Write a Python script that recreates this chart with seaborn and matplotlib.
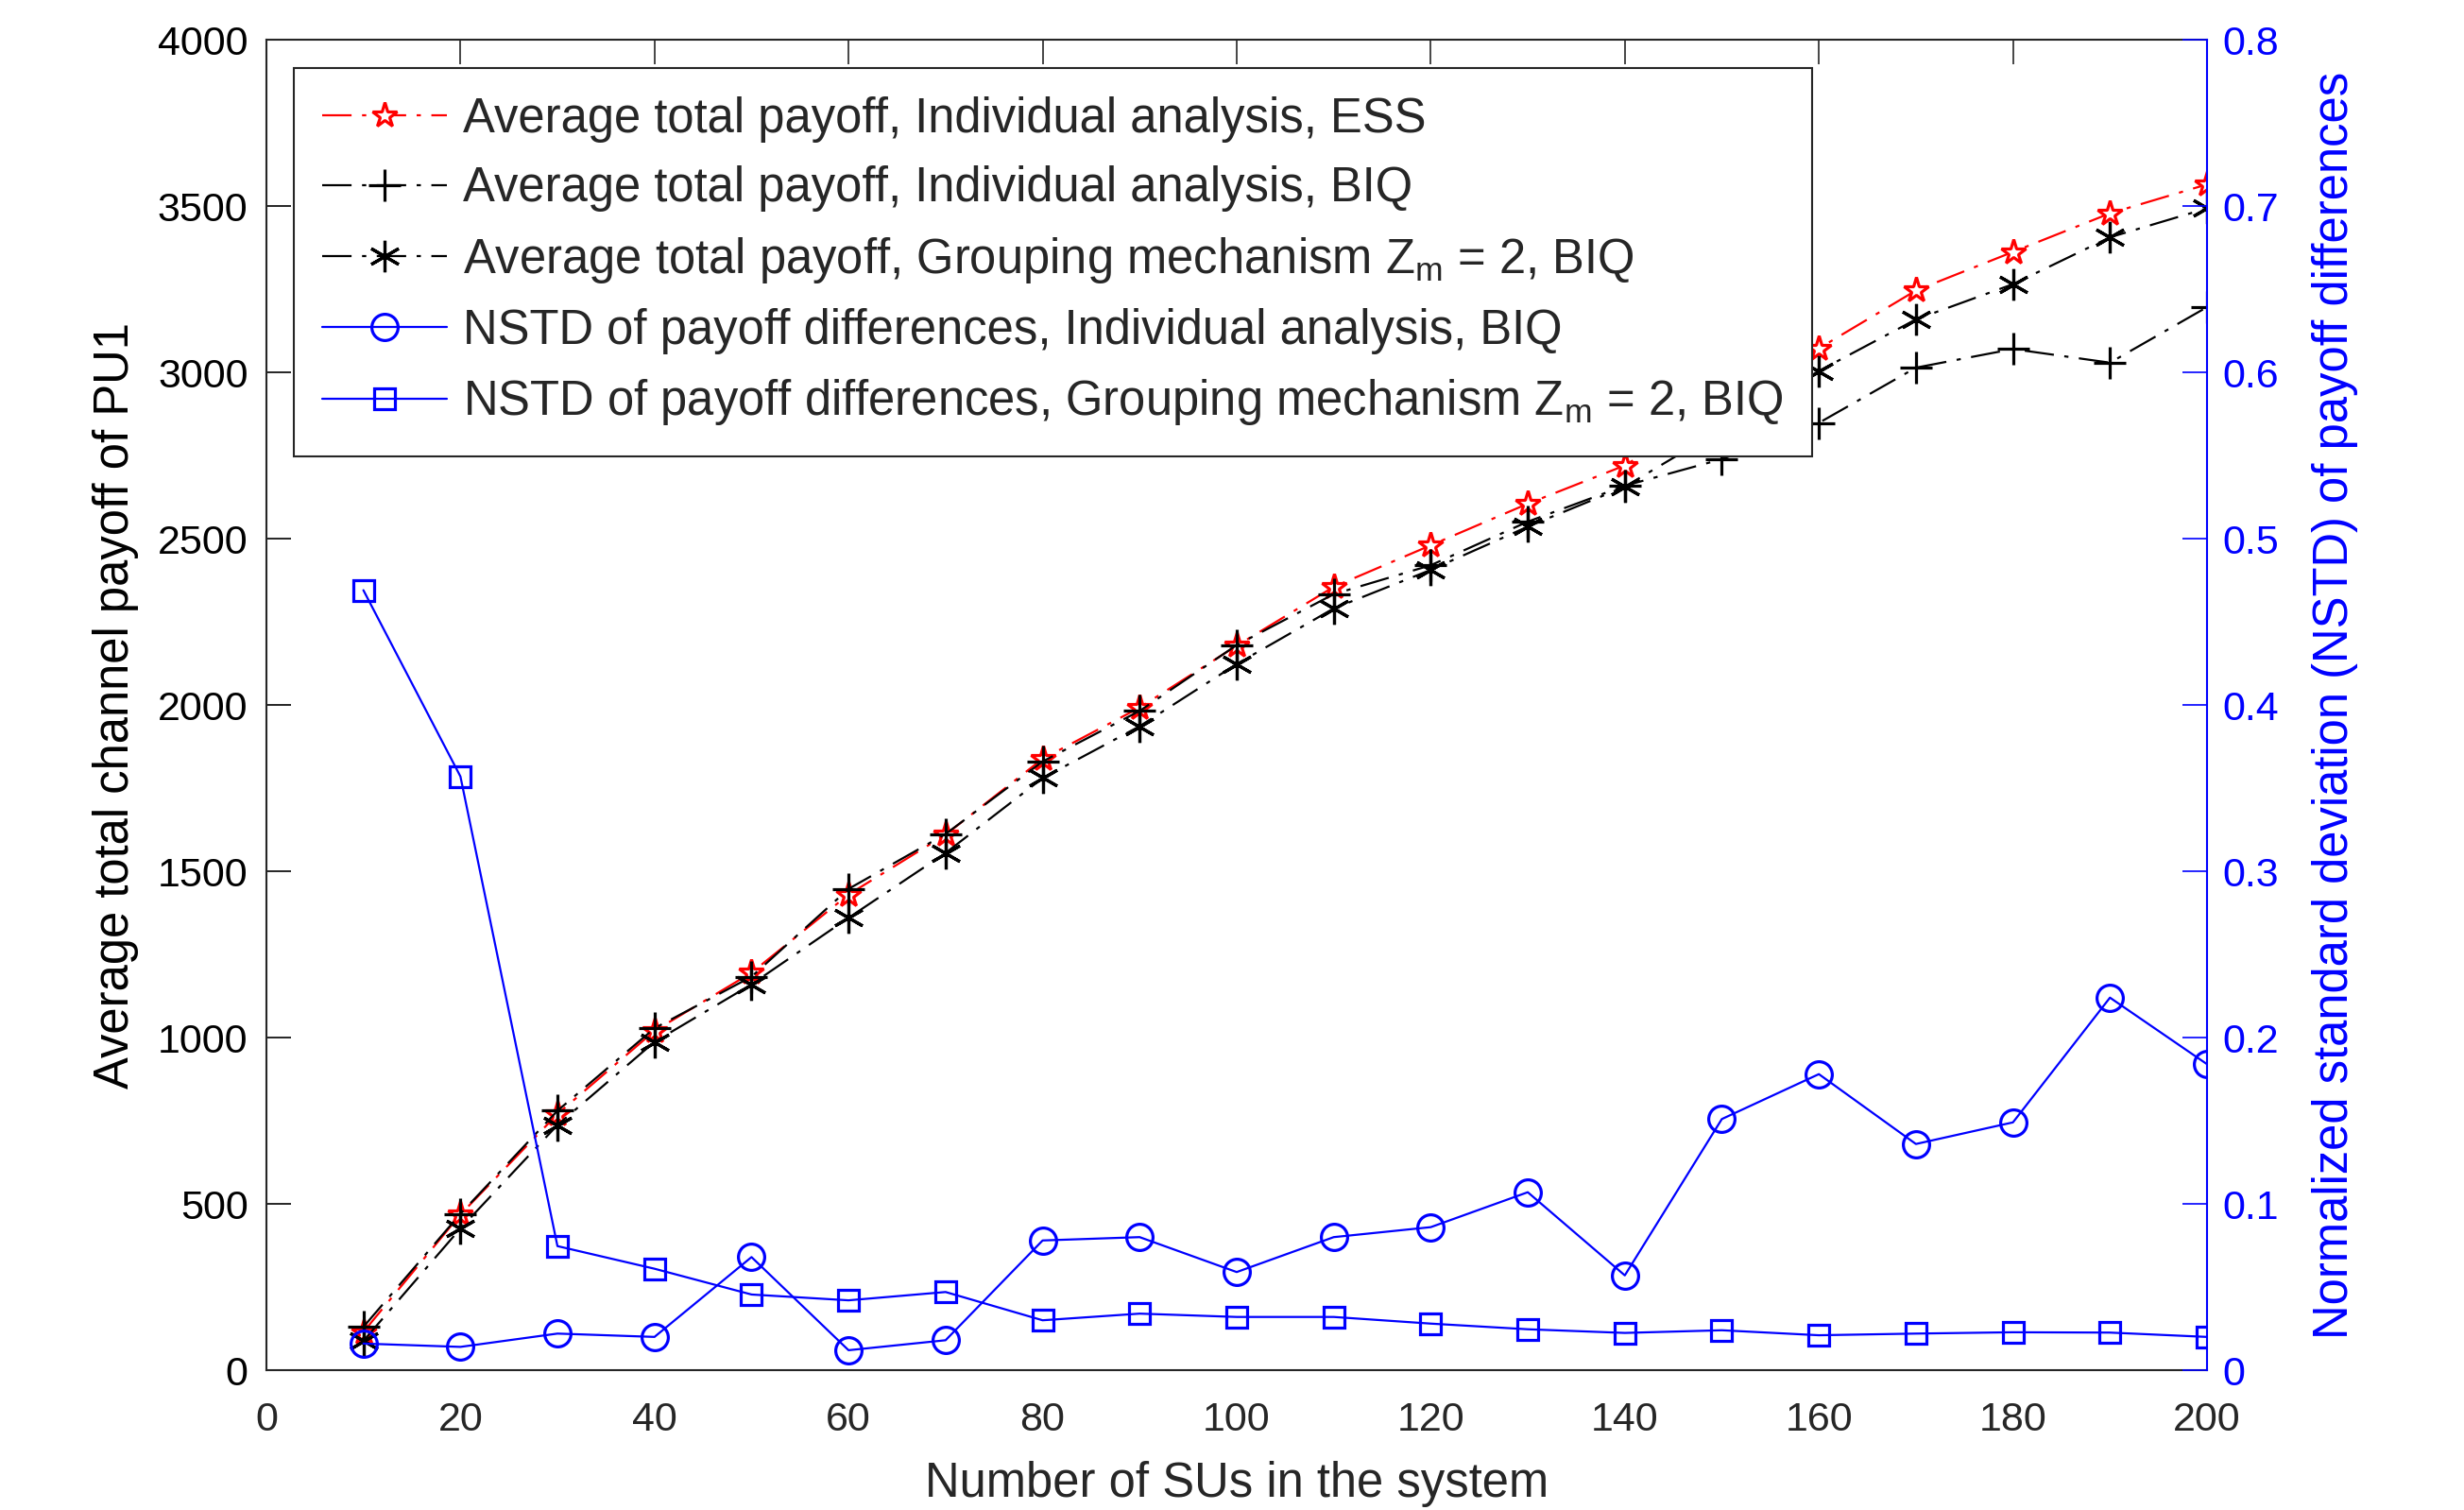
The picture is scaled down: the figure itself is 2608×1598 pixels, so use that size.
import numpy as np
import pandas as pd
import matplotlib
matplotlib.use("Agg")
import matplotlib.pyplot as plt
import seaborn as sns

# number of SUs in the system
n_sus = [10, 20, 30, 40, 50, 60, 70, 80, 90, 100,
         110, 120, 130, 140, 150, 160, 170, 180, 190, 200]

# average total payoff (left axis)
payoff_ind_ess = [115, 468, 770, 1020, 1195, 1430, 1610, 1838, 1992, 2178,
                  2355, 2480, 2605, 2720, 2900, 3072, 3246, 3362, 3478, 3565]
payoff_ind_biq = [130, 470, 780, 1028, 1183, 1447, 1612, 1830, 1982, 2180,
                  2333, 2420, 2551, 2659, 2739, 2848, 3014, 3070, 3029, 3196]
payoff_grp_biq = [88, 426, 737, 987, 1160, 1360, 1555, 1780, 1936, 2123,
                  2290, 2406, 2536, 2656, 2830, 3004, 3159, 3265, 3406, 3493]

# NSTD of payoff differences (right axis)
nstd_ind_biq = [0.016, 0.014, 0.022, 0.020, 0.068, 0.012, 0.018, 0.078, 0.080, 0.059,
                0.080, 0.086, 0.107, 0.057, 0.151, 0.178, 0.136, 0.149, 0.224, 0.184]
nstd_grp_biq = [0.469, 0.357, 0.0746, 0.061, 0.0455, 0.042, 0.047, 0.030, 0.034, 0.032,
                0.032, 0.028, 0.0246, 0.0224, 0.024, 0.021, 0.022, 0.0228, 0.0226, 0.020]

labels = [
    "Average total payoff, Individual analysis, ESS",
    "Average total payoff, Individual analysis, BIQ",
    r"Average total payoff, Grouping mechanism Z$_\mathregular{m}$ = 2, BIQ",
    "NSTD of payoff differences, Individual analysis, BIQ",
    r"NSTD of payoff differences, Grouping mechanism Z$_\mathregular{m}$ = 2, BIQ",
]

sns.set_theme(style="white")
plt.rcParams["font.family"] = ["Liberation Sans", "DejaVu Sans"]
plt.rcParams["mathtext.default"] = "regular"
FS_TICK = 31
FS = 36.5

df = pd.DataFrame({
    "n": n_sus,
    "ess": payoff_ind_ess,
    "ind": payoff_ind_biq,
    "grp": payoff_grp_biq,
    "nstd_ind": nstd_ind_biq,
    "nstd_grp": nstd_grp_biq,
})

fig = plt.figure(figsize=(26.08, 15.98), dpi=100)
ax = fig.add_axes([0.1081, 0.0926, 0.7876, 0.8811])
ax2 = ax.twinx()

dashdot = (0, (14, 5, 2, 5))
lw = 1.6
mew = 2.3

sns.lineplot(data=df, x="n", y="ess", ax=ax, color="red", linestyle=dashdot, lw=lw,
             marker="*", ms=20, mfc="white", mec="red", mew=mew)
sns.lineplot(data=df, x="n", y="ind", ax=ax, color="black", linestyle=dashdot, lw=lw,
             marker="+", ms=24, mec="black", mew=mew)
sns.lineplot(data=df, x="n", y="grp", ax=ax, color="black", linestyle=dashdot, lw=lw,
             marker=(6, 2, 0), ms=24, mec="black", mew=mew)
sns.lineplot(data=df, x="n", y="nstd_ind", ax=ax2, color="blue", linestyle="-", lw=lw,
             marker="o", ms=20, mfc="none", mec="blue", mew=mew)
sns.lineplot(data=df, x="n", y="nstd_grp", ax=ax2, color="blue", linestyle="-", lw=lw,
             marker="s", ms=16, mfc="none", mec="blue", mew=mew)

ax.set_xlim(0, 200)
ax.set_ylim(0, 4000)
ax.set_xticks(np.arange(0, 201, 20))
ax.set_yticks(np.arange(0, 4001, 500))
ax2.set_ylim(0, 0.8)
ax2.set_yticks(np.arange(0, 0.81, 0.1))
ax2.set_yticklabels(["0"] + [f"{v:.1f}" for v in np.arange(0.1, 0.81, 0.1)])

ax.tick_params(axis="x", direction="in", length=19, width=1.2, colors="#262626",
               labelsize=FS_TICK, pad=24, top=True)
ax.tick_params(axis="y", direction="in", length=19, width=1.2, colors="black",
               labelsize=FS_TICK, pad=14, right=False)
ax2.tick_params(axis="y", direction="in", length=19, width=1.2, colors="blue",
                labelsize=FS_TICK, pad=12)

for s in ["left", "bottom", "top"]:
    ax.spines[s].set_color("#262626")
    ax.spines[s].set_linewidth(1.5)
for s in ["left", "bottom", "top"]:
    ax2.spines[s].set_visible(False)
ax.spines["right"].set_visible(False)
ax2.spines["right"].set_color("blue")
ax2.spines["right"].set_linewidth(1.5)

ax.set_xlabel("Number of SUs in the system", fontsize=FS, color="#262626", labelpad=16)
ax.set_ylabel("Average total channel payoff of PU1", fontsize=FS, color="black", labelpad=14)
ax2.set_ylabel("Normalized standard deviation (NSTD) of payoff differences",
               fontsize=FS, color="blue", labelpad=25)

handles = ax.get_lines()[:3] + ax2.get_lines()[:2]
leg = ax2.legend(handles, labels, loc="upper left", bbox_to_anchor=(0.0141, 0.979),
                 borderaxespad=0, fontsize=FS, frameon=True, fancybox=False,
                 edgecolor="#262626", facecolor="white", framealpha=1,
                 handlelength=2.6, handletextpad=0.33, borderpad=0.6,
                 labelspacing=0.48, numpoints=1)
leg.get_frame().set_linewidth(1.5)

fig.savefig("out.png", dpi=100)
